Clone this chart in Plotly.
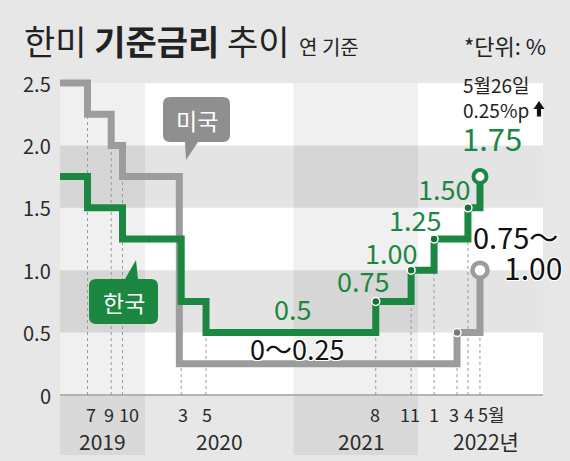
import plotly.graph_objects as go
from datetime import datetime, timedelta

# ---------------- data ----------------
kr_dates = ["2019-05-06", "2019-07-18", "2019-10-19", "2020-03-23", "2020-05-28",
            "2021-08-22", "2021-11-24", "2022-01-24", "2022-04-24", "2022-05-26"]
kr_rates = [1.75, 1.50, 1.25, 0.75, 0.50, 0.75, 1.00, 1.25, 1.50, 1.75]

us_dates = ["2019-05-06", "2019-07-18", "2019-09-19", "2019-10-19", "2020-03-18",
            "2022-03-26", "2022-05-26"]
us_rates = [2.50, 2.25, 2.00, 1.75, 0.25, 0.50, 1.00]

tick_dates = ["2019-07-18", "2019-09-19", "2019-10-19", "2020-03-23", "2020-05-28",
              "2021-08-22", "2021-11-24", "2022-01-24", "2022-03-26", "2022-04-24", "2022-05-26"]
tick_text = ["7", "9", "10", "3", "5", "8", "11", "1", "3", "4", "5월"]
guide_top = [2.25, 2.00, 1.75, 0.25, 0.50, 0.50, 0.75, 1.00, 0.25, 1.25, 0.50]

year_text = ["2019", "2020", "2021", "2022년"]
y_tickvals = [0, 0.5, 1.0, 1.5, 2.0, 2.5]
y_ticktext = ["0", "0.5", "1.0", "1.5", "2.0", "2.5"]

kr_value_labels = ["0.75", "1.00", "1.25", "1.50"]

# ---------------- style / layout helpers ----------------
GREEN = "#1b8741"
DKGREEN = "#17703a"
GRAY = "#9c9c9c"
BG = "#e7e7e7"
TXT = "#2a2a2a"
FONT = "Noto Sans CJK KR"

W, H = 570, 461
PL, PR, PT, PB = 50, 560, 40, 455
Y0PX, KPX = 395.0, 124.8
BASE, BASE_PX, PXDAY = datetime(2019, 7, 18), 87.5, 0.3763


def px2date(p):
    return (BASE + timedelta(days=(p - BASE_PX) / PXDAY)).strftime("%Y-%m-%d %H:%M")


def px2y(p):
    return (Y0PX - p) / KPX


def pxx(p):
    return (p - PL) / (PR - PL)


def pxy(p):
    return (PB - p) / (PB - PT)


fig = go.Figure()

# ---------------- background shapes ----------------
shapes = []
shapes.append(dict(type="rect", xref="x", yref="y", x0=px2date(60), x1=px2date(543),
                   y0=0, y1=2.5, fillcolor="white", line=dict(width=0), layer="below"))
for lo, hi in [(0.5, 1.0), (1.5, 2.0)]:
    shapes.append(dict(type="rect", xref="x", yref="y", x0=px2date(60), x1=px2date(543),
                       y0=lo, y1=hi, fillcolor="#e4e4e4", line=dict(width=0), layer="below"))
for a, b in [(60, 145), (293.6, 418)]:
    shapes.append(dict(type="rect", xref="x", yref="y", x0=px2date(a), x1=px2date(b),
                       y0=px2y(455), y1=2.5, fillcolor="rgba(0,0,0,0.06)",
                       line=dict(width=0), layer="below"))
# x axis base line
shapes.append(dict(type="line", xref="x", yref="y", x0=px2date(60), x1=px2date(543),
                   y0=0, y1=0, line=dict(color="#b3b3b3", width=2), layer="below"))
# dotted guides
for d, top in zip(tick_dates, guide_top):
    shapes.append(dict(type="line", xref="x", yref="y", x0=d, x1=d, y0=0, y1=top,
                       line=dict(color="#9a9a9a", width=1, dash="dot"), layer="below"))

# "미국" callout (pointer at bottom)
w, h, r = 67, 45, 7
us_path = (f"M {r},0 L {w-r},0 Q {w},0 {w},{-r} L {w},{-(h-r)} Q {w},{-h} {w-r},{-h} "
           f"L 35,{-h} L 23,-63 L 22,{-h} L {r},{-h} Q 0,{-h} 0,{-(h-r)} L 0,{-r} Q 0,0 {r},0 Z")
shapes.append(dict(type="path", xref="x", yref="y", xsizemode="pixel", ysizemode="pixel",
                   xanchor=px2date(163), yanchor=px2y(97), path=us_path,
                   fillcolor="#8f8f8f", line=dict(width=0), layer="above"))
# "한국" callout (pointer at top)
w, h, r = 69, 45, 7
kr_path = (f"M {r},0 L 36,0 L 47,19 L 49,0 L {w-r},0 Q {w},0 {w},{-r} L {w},{-(h-r)} "
           f"Q {w},{-h} {w-r},{-h} L {r},{-h} Q 0,{-h} 0,{-(h-r)} L 0,{-r} Q 0,0 {r},0 Z")
shapes.append(dict(type="path", xref="x", yref="y", xsizemode="pixel", ysizemode="pixel",
                   xanchor=px2date(89), yanchor=px2y(279), path=kr_path,
                   fillcolor=GREEN, line=dict(width=0), layer="above"))
# up arrow next to "0.25%p"
arrow_path = "M 0,0 L 5.5,-8 L 2.1,-8 L 2.1,-15.5 L -2.1,-15.5 L -2.1,-8 L -5.5,-8 Z"
shapes.append(dict(type="path", xref="x", yref="y", xsizemode="pixel", ysizemode="pixel",
                   xanchor=px2date(539), yanchor=px2y(101), path=arrow_path,
                   fillcolor="#111", line=dict(width=0), layer="above"))

# ---------------- traces ----------------
fig.add_trace(go.Scatter(x=us_dates, y=us_rates, mode="lines",
                         line=dict(shape="hv", color=GRAY, width=7), hoverinfo="skip"))
fig.add_trace(go.Scatter(x=kr_dates, y=kr_rates, mode="lines",
                         line=dict(shape="hv", color=GREEN, width=7), hoverinfo="skip"))

us_up = [i for i in range(1, len(us_rates) - 1) if us_rates[i] > us_rates[i - 1]]
kr_up = [i for i in range(1, len(kr_rates) - 1) if kr_rates[i] > kr_rates[i - 1]]
fig.add_trace(go.Scatter(x=[us_dates[i] for i in us_up], y=[us_rates[i] for i in us_up],
                         mode="markers", marker=dict(size=8, color="#7a7a7a",
                                                     line=dict(color="white", width=1.5)),
                         hoverinfo="skip"))
fig.add_trace(go.Scatter(x=[kr_dates[i] for i in kr_up], y=[kr_rates[i] for i in kr_up],
                         mode="markers", marker=dict(size=8, color=DKGREEN,
                                                     line=dict(color="white", width=1.5)),
                         hoverinfo="skip"))
fig.add_trace(go.Scatter(x=[us_dates[-1]], y=[us_rates[-1]], mode="markers",
                         marker=dict(size=15, color="white", line=dict(color=GRAY, width=4.5)),
                         hoverinfo="skip"))
fig.add_trace(go.Scatter(x=[kr_dates[-1]], y=[kr_rates[-1]], mode="markers",
                         marker=dict(size=13, color="white", line=dict(color=GREEN, width=4)),
                         hoverinfo="skip"))

# ---------------- annotations ----------------
ann = []


def txt(text, x, y, size, color=TXT, xanchor="center", yanchor="middle", shadow=None, **kw):
    f = dict(family=FONT, size=size, color=color)
    if shadow:
        f["shadow"] = shadow
    d = dict(text=text, x=x, y=y, xref="paper", yref="paper", showarrow=False,
             xanchor=xanchor, yanchor=yanchor, font=f)
    d.update(kw)
    ann.append(d)


# title
txt("한미 <b>기준금리</b> 추이", pxx(22), pxy(41), 34, color="#222", xanchor="left")
txt("연 기준", pxx(297), pxy(46), 20, color="#222", xanchor="left")
txt("*단위: %", pxx(548), pxy(45), 22, color="#222", xanchor="right")

# y tick labels
for v, t in zip(y_tickvals, y_ticktext):
    ann.append(dict(text=t, x=0, xref="paper", xshift=3, y=v, yref="y", xanchor="right",
                    yanchor="middle", showarrow=False, font=dict(family=FONT, size=20, color=TXT)))

# month labels
month_shift = [3, -2, 6, 2, 1, -1, -1, 0, -3, 1, -4]
for d, t, s in zip(tick_dates, tick_text, month_shift):
    is_last = t.endswith("월")
    ann.append(dict(text=t, x=d, xref="x", y=0, yref="y", yshift=-19,
                    xanchor="left" if is_last else "center", xshift=s,
                    yanchor="middle", showarrow=False,
                    font=dict(family=FONT, size=18, color=TXT)))
# year labels
for t, p in zip(year_text, [102.6, 219, 361, 486]):
    ann.append(dict(text=t, x=px2date(p), xref="x", y=0, yref="y", yshift=-46,
                    xanchor="center", yanchor="middle", showarrow=False,
                    font=dict(family=FONT, size=21, color=TXT)))

# callout texts
txt("미국", pxx(196.5), pxy(119.5), 23, color="white")
txt("한국", pxx(123.5), pxy(301.5), 23, color="white")

# green value labels
txt("0.5", pxx(292), pxy(308), 27, color=GREEN)
for t, (px_, py_) in zip(kr_value_labels, [(363, 280), (391, 252), (414.5, 220), (443.5, 188)]):
    txt(t, pxx(px_), pxy(py_), 27, color=GREEN)
txt("1.75", pxx(491.5), pxy(137.5), 31, color=GREEN)
txt("5월26일<br>0.25%p", pxx(461), pxy(97), 19, xanchor="left", color="#222", align="left")

halo = "1px 1px 0 white, -1px -1px 0 white, 1px -1px 0 white, -1px 1px 0 white"
txt("0～0.25", pxx(297), pxy(348), 27, color="#111", shadow=halo)
txt("0.75～", pxx(471), pxy(236), 29, color="#111", xanchor="left", shadow=halo)
txt("1.00", pxx(502), pxy(267), 30, color="#111", xanchor="left", shadow=halo)

fig.update_layout(
    width=W, height=H,
    margin=dict(l=PL, r=W - PR, t=PT, b=H - PB, pad=0),
    paper_bgcolor=BG, plot_bgcolor=BG,
    showlegend=False,
    xaxis=dict(type="date", range=[px2date(PL), px2date(PR)], showgrid=False,
               zeroline=False, showticklabels=False, showline=False, fixedrange=True),
    yaxis=dict(range=[px2y(PB), px2y(PT)], showgrid=False, zeroline=False,
               showticklabels=False, showline=False, fixedrange=True),
    shapes=shapes,
    annotations=ann,
    font=dict(family=FONT),
)

fig.write_html("out.html", config={"displayModeBar": False},
               post_script="document.body.style.margin='0px';document.body.style.overflow='hidden';")
